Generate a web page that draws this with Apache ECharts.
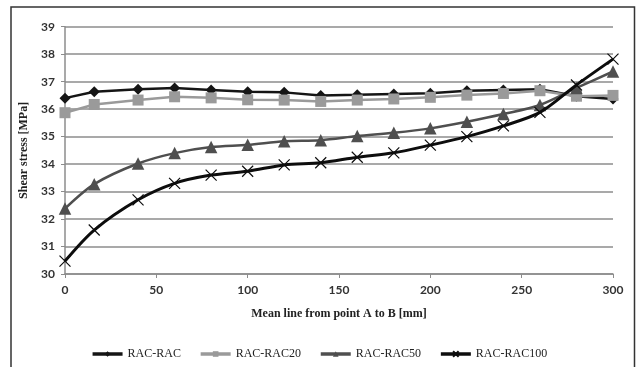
<!DOCTYPE html>
<html>
<head>
<meta charset="utf-8">
<script src="https://cdn.jsdelivr.net/npm/echarts@6/dist/echarts.min.js"></script>
<style>
  html, body { margin: 0; padding: 0; background: #fff; }
  #chart { width: 638px; height: 367px; }
</style>
</head>
<body>
<div id="chart"></div>
<script>
// Positions along the mean line A-B [mm]
const positions = [0, 16, 40, 60, 80, 100, 120, 140, 160, 180, 200, 220, 240, 260, 280, 300];

// Shear stress [MPa] for each mix
const racRac    = [36.40, 36.63, 36.72, 36.77, 36.70, 36.63, 36.61, 36.50, 36.52, 36.55, 36.58, 36.67, 36.70, 36.72, 36.47, 36.37];
const racRac20  = [35.87, 36.17, 36.33, 36.45, 36.41, 36.34, 36.33, 36.28, 36.33, 36.37, 36.43, 36.51, 36.57, 36.67, 36.47, 36.50];
const racRac50  = [32.38, 33.27, 34.02, 34.40, 34.62, 34.70, 34.83, 34.87, 35.02, 35.14, 35.30, 35.54, 35.82, 36.15, 36.77, 37.37];
const racRac100 = [30.47, 31.60, 32.70, 33.30, 33.60, 33.74, 33.97, 34.05, 34.25, 34.41, 34.69, 35.00, 35.39, 35.88, 36.88, 37.82];

const seriesNames = ['RAC-RAC', 'RAC-RAC20', 'RAC-RAC50', 'RAC-RAC100'];

const pairs = vals => positions.map((x, i) => [x, vals[i]]);

const serif = '"Liberation Serif", "Times New Roman", serif';
const sans = 'Lato, "Open Sans", sans-serif';

const chart = echarts.init(document.getElementById('chart'), null, { renderer: 'canvas' });

chart.setOption({
  animation: false,
  backgroundColor: '#fff',
  graphic: [{
    type: 'rect',
    shape: { x: 11, y: 7, width: 623.5, height: 400 },
    style: { fill: 'none', stroke: '#333', lineWidth: 1.5 },
    silent: true
  }],
  grid: { left: 65, right: 25, top: 26.7, bottom: 93, containLabel: false },
  legend: {
    data: seriesNames,
    top: 343,
    left: 'center',
    itemWidth: 30,
    itemHeight: 7,
    itemGap: 18,
    lineStyle: { width: 3.5 },
    textStyle: { fontFamily: serif, fontSize: 12, color: '#222' }
  },
  xAxis: {
    type: 'value',
    min: 0, max: 300, interval: 50,
    name: 'Mean line from point A to B [mm]',
    nameLocation: 'middle',
    nameGap: 34,
    nameTextStyle: { fontFamily: serif, fontWeight: 'bold', fontSize: 12, color: '#222' },
    axisLine: { show: true, lineStyle: { color: '#8c8c8c', width: 1.5 } },
    axisTick: { show: true, length: 4, lineStyle: { color: '#8c8c8c' } },
    axisLabel: { fontFamily: sans, fontWeight: 'bold', fontSize: 12, color: '#333', margin: 10 },
    splitLine: { show: false }
  },
  yAxis: {
    type: 'value',
    min: 30, max: 39, interval: 1,
    name: 'Shear stress [MPa]',
    nameLocation: 'middle',
    nameGap: 32,
    nameTextStyle: { fontFamily: serif, fontWeight: 'bold', fontSize: 12, color: '#222' },
    axisLine: { show: true, lineStyle: { color: '#8c8c8c', width: 1.5 } },
    axisTick: { show: true, length: 4, lineStyle: { color: '#8c8c8c' } },
    axisLabel: { fontFamily: sans, fontWeight: 'bold', fontSize: 12, color: '#333', margin: 10 },
    splitLine: { show: true, lineStyle: { color: '#8c8c8c', width: 1.5 } }
  },
  series: [
    {
      name: seriesNames[0], type: 'line', data: pairs(racRac),
      symbol: 'diamond', symbolSize: 11,
      lineStyle: { color: '#151515', width: 2.5 },
      itemStyle: { color: '#151515' },
      z: 2
    },
    {
      name: seriesNames[1], type: 'line', data: pairs(racRac20),
      symbol: 'rect', symbolSize: 11,
      lineStyle: { color: '#9a9a9a', width: 2.5 },
      itemStyle: { color: '#9a9a9a' },
      z: 3
    },
    {
      name: seriesNames[2], type: 'line', data: pairs(racRac50), smooth: 0.3,
      symbol: 'triangle', symbolSize: 12.5,
      lineStyle: { color: '#4f4f4f', width: 2.5 },
      itemStyle: { color: '#4f4f4f' },
      z: 4
    },
    {
      name: seriesNames[3], type: 'line', data: pairs(racRac100), smooth: 0.3,
      symbol: 'path://M0,0L10,10M10,0L0,10', symbolSize: 11,
      lineStyle: { color: '#0d0d0d', width: 3 },
      itemStyle: { color: '#0d0d0d', borderColor: '#0d0d0d', borderWidth: 1.2 },
      z: 5
    }
  ]
});
</script>
</body>
</html>
